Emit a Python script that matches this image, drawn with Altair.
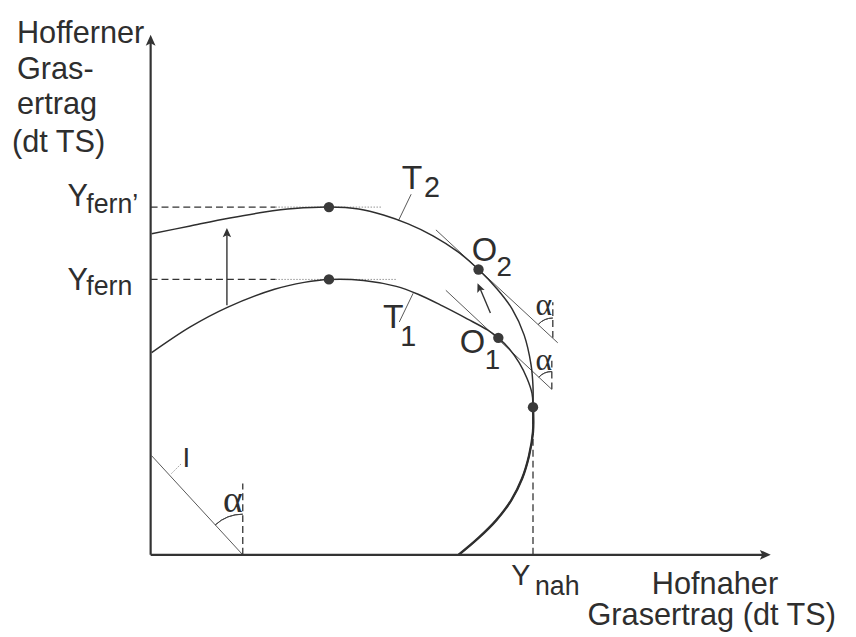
import altair as alt
import pandas as pd

# ---- data (units: pixels right of / above the axis origin) ----
# transformation curve T1 (upper branch up to the common point)
t1_x = [1, 40, 78, 125, 155, 180, 215, 248, 270, 295, 320, 340, 351, 362, 372, 380, 385, 386]
t1_y = [204, 230, 250, 268, 275, 278, 277, 271, 263, 251, 238, 227, 219, 208, 194, 178, 163, 149]
# transformation curve T2
t2_x = [1, 40, 80, 115, 145, 180, 210, 235, 260, 285, 310, 331, 350, 365, 377, 384, 386, 386]
t2_y = [324, 332, 340, 346, 349.5, 351, 349, 343, 334, 322, 306, 288, 268, 248, 222, 192, 170, 149]
# common lower branch down to the x axis
low_x = [386, 386, 382, 375, 364, 349, 331, 311]
low_y = [149, 124, 100, 77, 55, 35, 17, 0]

# marked points: peaks, O2, O1, common point
dot_x = [180, 180, 331, 351, 386]
dot_y = [351, 278, 288, 219, 149]

# segments
axis_seg = [(0, 0, 0, 520), (0, 0, 620, 0)]
dash_seg = [(0, 351, 126, 351), (0, 278, 126, 278), (386, 0, 386, 149),
            (93, 0, 93, 72), (406, 219, 406, 255), (405, 167, 405, 199)]
dot_seg = [(126, 351, 233, 351), (126, 278, 248, 278), (21, 82, 31, 92)]
thin_seg = [(288, 328, 411, 214), (298, 267, 405, 167), (1, 100, 93, 0),
            (250, 337, 263, 364), (265, 264, 251, 235)]
shaft_seg = [(77, 252, 77, 325), (343, 244, 332, 270)]

# arrowheads: tip x, tip y, rotation, size
head_x = [0, 626, 77, 330]
head_y = [525, 0, 330, 274]
head_ang = [0, 90, 0, 337]
head_size = [121, 121, 90, 80]

# angle arcs: centre, radius, start/end angle (radians)
arc_x = [93, 406, 405]
arc_y = [0, 219, 167]
arc_r = [41, 20, 18]
arc_t1 = [5.539, 5.460, 5.465]
arc_t2 = [6.283, 6.283, 6.283]

# texts
left_txt = ["Hofferner", "Gras-", "ertrag", "(dt TS)", "Y", "fern\u2019", "Y", "fern",
            "Y", "nah", "Hofnaher", "Grasertrag (dt TS)"]
left_x = [-135, -135, -135, -140, -84, -65, -84, -65, 364, 388, 506, 441]
left_y = [517, 480, 445, 407, 352, 345, 267, 262, -30, -41, -40, -71]
left_size = [31, 31, 31, 31, 31, 27, 31, 27, 29, 27, 31, 31]

mid_txt = ["T", "2", "T", "1", "O", "2", "O", "1", "I"]
mid_x = [264, 284, 245, 260, 337, 357, 325, 345, 36]
mid_y = [379, 370, 239, 220, 307, 289, 214, 196, 97]
mid_size = [34, 29, 34, 29, 33, 28, 33, 28, 28]

alpha_x = [83, 397, 397]
alpha_y = [54, 252, 197]
alpha_size = [38, 32, 32]

# ---- chart ----
XS = alt.Scale(domain=[-144, 704], nice=False, zero=False)
YS = alt.Scale(domain=[-80, 549], nice=False, zero=False)
INK = "#2e2e2e"


def xe(f="x"):
    return alt.X(f, type="quantitative", scale=XS, axis=None)


def ye(f="y"):
    return alt.Y(f, type="quantitative", scale=YS, axis=None)


def curve_df(xs_, ys_, name):
    return pd.DataFrame({"x": xs_, "y": ys_, "o": list(range(len(xs_))), "c": name})


curves = pd.concat([curve_df(t1_x + low_x[1:], t1_y + low_y[1:], "T1"),
                    curve_df(t2_x, t2_y, "T2")])
lower = curve_df(low_x, low_y, "low")


def seg_df(segs):
    return pd.DataFrame(segs, columns=["x", "y", "x2", "y2"])


def rules(segs, **kw):
    return alt.Chart(seg_df(segs)).mark_rule(**kw).encode(
        x=xe(), y=ye(), x2=alt.X2("x2"), y2=alt.Y2("y2"))


curve_layer = alt.Chart(curves).mark_line(
    interpolate="catmull-rom", color=INK, strokeWidth=1.5).encode(
    x=xe(), y=ye(), order="o:Q", detail="c:N")
lower_layer = alt.Chart(lower).mark_line(
    interpolate="catmull-rom", color=INK, strokeWidth=2.4).encode(
    x=xe(), y=ye(), order="o:Q")

axis_layer = rules(axis_seg, color="#333", strokeWidth=2.2)
dash_layer = rules(dash_seg, color="#333", strokeWidth=1.3, strokeDash=[7, 4])
dotl_layer = rules(dot_seg, color="#777", strokeWidth=0.8, strokeDash=[1.5, 1.5])
thin_layer = rules(thin_seg, color="#444", strokeWidth=0.9)
shaft_layer = rules(shaft_seg, color="#333", strokeWidth=1.4)

dots = alt.Chart(pd.DataFrame({"x": dot_x, "y": dot_y})).mark_point(
    filled=True, size=110, color="#3a3a3a", opacity=1).encode(x=xe(), y=ye())

heads = alt.Chart(pd.DataFrame({"x": head_x, "y": head_y, "a": head_ang, "s": head_size})).mark_point(
    filled=True, shape="M0,0L-0.9,2L0,1.55L0.9,2Z", color="#333", opacity=1).encode(
    x=xe(), y=ye(), angle=alt.Angle("a:Q", scale=None), size=alt.Size("s:Q", scale=None))

arcs = alt.Chart(pd.DataFrame({"x": arc_x, "y": arc_y, "r": arc_r, "t1": arc_t1, "t2": arc_t2})).mark_arc(
    stroke="#444", strokeWidth=1, fillOpacity=0).encode(
    x=xe(), y=ye(),
    theta=alt.Theta("t1:Q", scale=None), theta2=alt.Theta2("t2"),
    radius=alt.Radius("r:Q", scale=None), radius2=alt.Radius2("r"))

left_text = alt.Chart(pd.DataFrame({"t": left_txt, "x": left_x, "y": left_y, "s": left_size})).mark_text(
    align="left", baseline="alphabetic", font="Liberation Sans", color=INK).encode(
    x=xe(), y=ye(), text="t:N", size=alt.Size("s:Q", scale=None))

mid_text = alt.Chart(pd.DataFrame({"t": mid_txt, "x": mid_x, "y": mid_y, "s": mid_size})).mark_text(
    align="center", baseline="middle", font="Liberation Sans", color=INK).encode(
    x=xe(), y=ye(), text="t:N", size=alt.Size("s:Q", scale=None))

alpha_text = alt.Chart(pd.DataFrame({"t": ["\u03b1"] * 3, "x": alpha_x, "y": alpha_y, "s": alpha_size})).mark_text(
    align="center", baseline="middle", font="Liberation Serif", color=INK).encode(
    x=xe(), y=ye(), text="t:N", size=alt.Size("s:Q", scale=None))

chart = alt.layer(
    dotl_layer, dash_layer, thin_layer, arcs, curve_layer, lower_layer,
    axis_layer, shaft_layer, heads, dots, left_text, mid_text, alpha_text
).properties(
    width=848, height=629,
    autosize=alt.AutoSizeParams(type="none"), padding=0
).configure_view(stroke=None)

chart.save("out.html", embed_options={"renderer": "svg", "actions": False})
